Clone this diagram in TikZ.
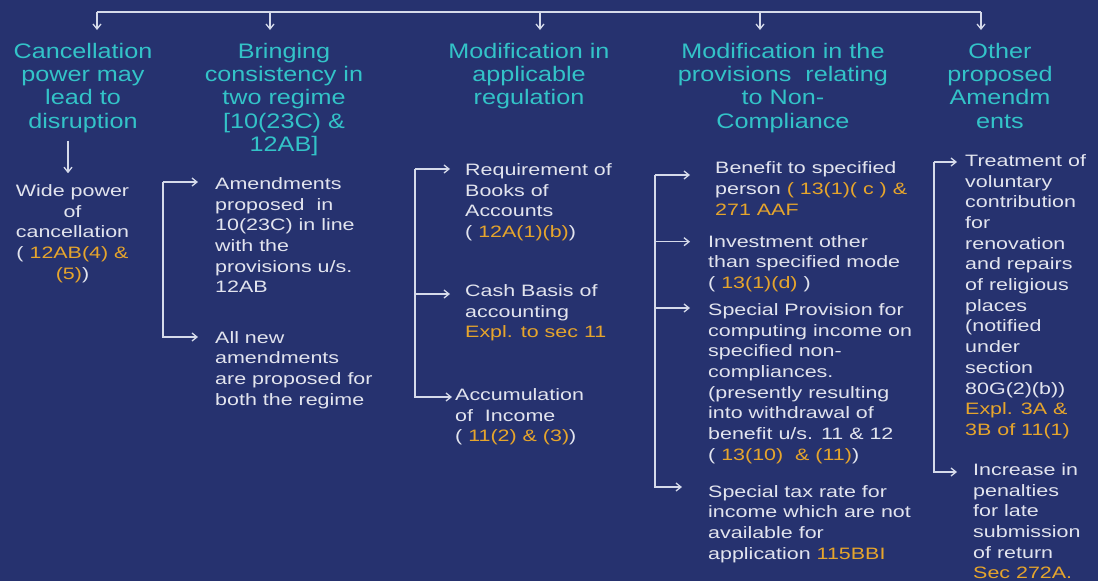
\documentclass[tikz,border=0pt]{standalone}
\usepackage{fontspec}
\setmainfont{Liberation Sans}
\newfontfamily\headfont{Liberation Sans}[FakeStretch=1.2]
\newfontfamily\bodyfont{Liberation Sans}[FakeStretch=1.3]
\usetikzlibrary{arrows.meta,calc}
\definecolor{bg}{HTML}{26326F}
\definecolor{headc}{HTML}{33C3C8}
\definecolor{bodyc}{HTML}{E2E4EE}
\definecolor{refc}{HTML}{E6A52C}
\definecolor{wirec}{HTML}{D5DAEA}
\begin{document}
\begin{tikzpicture}[x=1pt,y=-1pt,
  heading/.style={anchor=north,align=center,inner sep=0pt,text=headc,font=\headfont\fontsize{21}{23.2}\selectfont},
  item/.style={anchor=north west,align=left,inner sep=0pt,text=bodyc,font=\bodyfont\fontsize{16.5}{20.7}\selectfont},
  wire/.style={draw=wirec,line width=1.3pt},
  arr/.style={wire,-{Straight Barb[length=5pt,width=8pt]}},
]
\useasboundingbox (0,0) rectangle (1098,581);
\fill[bg] (0,0) rectangle (1098,581);

% headings
\node[heading] (h1) at (83,43) {Cancellation\\power may\\lead to\\disruption};
\node[heading] (h2) at (284,43) {Bringing\\consistency in\\two regime\\{[}10(23C) \&\\12AB{]}};
\node[heading] (h3) at (529,43) {Modification in\\applicable\\regulation};
\node[heading] (h4) at (783,43) {Modification in the\\provisions\ \ relating\\to Non-\\Compliance};
\node[heading] (h5) at (1000,43) {Other\\proposed\\Amendm\\ents};

% top bar
\coordinate (b1) at (97,12);
\coordinate (b2) at (270,12);
\coordinate (b3) at (540,12);
\coordinate (b4) at (760,12);
\coordinate (b5) at (981,12);
\draw[wire] (b1) -- (b5);
\foreach \i in {1,...,5}{\draw[arr,shorten >=13pt] (b\i) -- (b\i |- h\i.north);}

% column 1
\node[item,anchor=north,align=center] (w1) at (72.5,184.2) {Wide power\\of\\cancellation\\( \textcolor{refc}{12AB(4) \&}\\\textcolor{refc}{(5)})};
\draw[arr] ($(h1.south)+(-15,8)$) -- ($(w1.north)+(-4.5,-11)$);

% column 2
\node[item] (n2a) at (215,177.2) {Amendments\\proposed\ \ in\\10(23C) in line\\with the\\provisions u/s.\\12AB};
\node[item] (n2b) at (215,330.9) {All new\\amendments\\are proposed for\\both the regime};
\coordinate (s2) at (163,182);
\draw[arr] (s2) -- ($(n2a.north west)+(-17,4.8)$);
\draw[arr] (s2) |- ($(n2b.north west)+(-17,6.1)$);

% column 3
\node[item] (n3a) at (465,163.2) {Requirement of\\Books of\\Accounts\\( \textcolor{refc}{12A(1)(b)})};
\node[item] (n3b) at (465,284.2) {Cash Basis of\\accounting\\\textcolor{refc}{Expl. to sec 11}};
\node[item] (n3c) at (455,388.2) {Accumulation\\of\ \ Income\\( \textcolor{refc}{11(2) \& (3)})};
\coordinate (s3) at (415,169);
\draw[arr] (s3) -- ($(n3a.north west)+(-15,5.8)$);
\draw[arr] (s3) |- ($(n3b.north west)+(-15,9.8)$);
\draw[arr] (s3) |- ($(n3c.north west)+(-3,8.8)$);

% column 4
\node[item] (n4a) at (715,161.5) {Benefit to specified\\person \textcolor{refc}{( 13(1)( c ) \&}\\\textcolor{refc}{271 AAF}};
\node[item] (n4b) at (708,234.9) {Investment other\\than specified mode\\( \textcolor{refc}{13(1)(d)} )};
\node[item] (n4c) at (708,303.2) {Special Provision for\\computing income on\\specified non-\\compliances.\\(presently resulting\\into withdrawal of\\benefit u/s. 11 \& 12\\( \textcolor{refc}{13(10)\ \ \& (11)})};
\node[item] (n4d) at (708,484.9) {Special tax rate for\\income which are not\\available for\\application \textcolor{refc}{115BBI}};
\coordinate (s4) at (655,175);
\draw[arr] (s4) -- ($(n4a.north west)+(-25,13.5)$);
\draw[arr] (s4) |- ($(n4b.north west)+(-18,6.8)$);
\draw[arr] (s4) |- ($(n4c.north west)+(-18,4.8)$);
\draw[arr] (s4) |- ($(n4d.north west)+(-26,2.1)$);

% column 5
\node[item] (n5a) at (965,154.2) {Treatment of\\voluntary\\contribution\\for\\renovation\\and repairs\\of religious\\places\\(notified\\under\\section\\80G(2)(b))\\\textcolor{refc}{Expl. 3A \&}\\\textcolor{refc}{3B of 11(1)}};
\node[item] (n5b) at (973,463.2) {Increase in\\penalties\\for late\\submission\\of return\\\textcolor{refc}{Sec 272A.}};
\coordinate (s5) at (934,162);
\draw[arr] (s5) -- ($(n5a.north west)+(-8,7.8)$);
\draw[arr] (s5) |- ($(n5b.north west)+(-16,8.8)$);
\end{tikzpicture}
\end{document}
